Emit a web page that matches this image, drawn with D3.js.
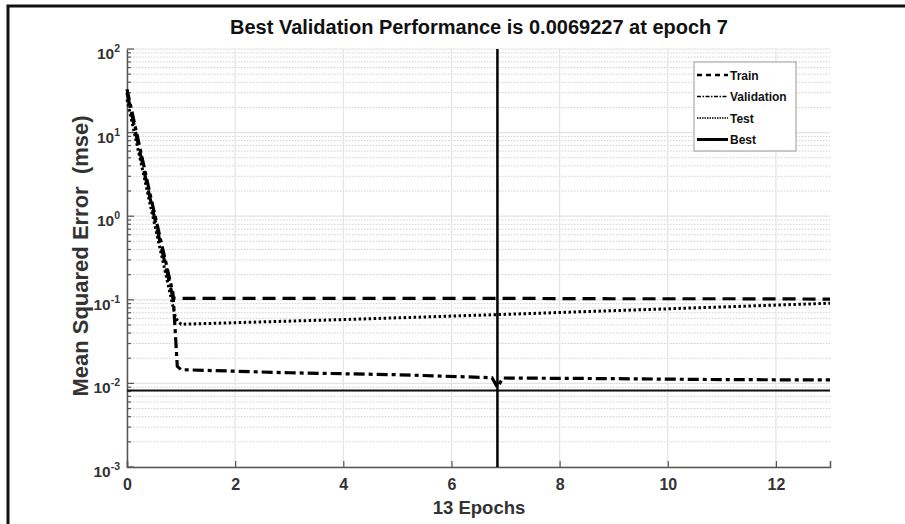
<!DOCTYPE html>
<html><head><meta charset="utf-8">
<script src="https://cdn.jsdelivr.net/npm/d3@7"></script>
<style>
html,body{margin:0;padding:0;background:#fff;}
svg{display:block;font-family:"Liberation Sans",Arial,sans-serif;}
</style></head>
<body>
<svg id="chart" width="905" height="524"></svg>
<script>
const titleText = "Best Validation Performance is 0.0069227 at epoch 7";
const xLabel = "13 Epochs";
const yLabel = "Mean Squared Error  (mse)";
const xTicks = [0, 2, 4, 6, 8, 10, 12];
const yTickExps = [-3, -2, -1, 0, 1, 2];
const legendLabels = ["Train", "Validation", "Test", "Best"];

const trainEpochs = [0, 0.43, 0.85, 1, 3, 5, 7, 9, 11, 13];
const trainValues = [30, 1.6, 0.105, 0.104, 0.104, 0.104, 0.104, 0.103, 0.103, 0.102];

const valEpochs = [0, 0.43, 0.85, 0.93, 1, 3, 5, 6.75, 6.85, 6.95, 9, 11, 13];
const valValues = [33, 1.8, 0.12, 0.016, 0.0146, 0.0134, 0.0127, 0.0117, 0.0090, 0.0116, 0.0114, 0.0111, 0.0110];

const testEpochs = [0, 0.45, 0.9, 1, 4, 7, 10, 13];
const testValues = [25, 1.2, 0.06, 0.051, 0.058, 0.067, 0.078, 0.091];

const bestEpoch = 6.85;
const bestValue = 0.0082;

const svg = d3.select("#chart");
const L = 127, R = 830, T = 49, B = 467;
const x = d3.scaleLinear().domain([0, 13]).range([L, R]);
const y = d3.scaleLog().domain([1e-3, 1e2]).range([B, T]);

// frame
svg.append("path").attr("d", "M8,530 L8,6 L910,6").attr("fill", "none").attr("stroke", "#111").attr("stroke-width", 3);

// minor grid
const minorVals = [];
for (let e = -3; e < 2; e++) for (let m = 2; m <= 9; m++) minorVals.push(m * Math.pow(10, e));
svg.append("g").selectAll("line").data(minorVals).join("line")
  .attr("x1", L).attr("x2", R).attr("y1", d => y(d)).attr("y2", d => y(d))
  .attr("stroke", "#cfcfcf").attr("stroke-width", 1).attr("stroke-dasharray", "1.5,1.5");
// major grid
svg.append("g").selectAll("line").data(yTickExps).join("line")
  .attr("x1", L).attr("x2", R).attr("y1", d => y(Math.pow(10, d))).attr("y2", d => y(Math.pow(10, d)))
  .attr("stroke", "#e3e3e3").attr("stroke-width", 1.2);
svg.append("g").selectAll("line").data(xTicks).join("line")
  .attr("x1", d => x(d)).attr("x2", d => x(d)).attr("y1", T).attr("y2", B)
  .attr("stroke", "#e3e3e3").attr("stroke-width", 1.2);

// axes
const xAxis = d3.axisBottom(x).tickValues(xTicks).tickSize(-6).tickFormat(d3.format("d")).tickPadding(12);
const gx = svg.append("g").attr("transform", `translate(0,${B})`).call(xAxis);
gx.select(".domain").attr("stroke", "#555").attr("stroke-width", 1.5);
gx.selectAll(".tick line").attr("stroke", "#555").attr("stroke-width", 1.2);
gx.selectAll(".tick text").attr("font-size", 16).attr("font-weight", "bold").attr("fill", "#333")
  .attr("font-family", "'Liberation Sans',Arial,sans-serif");

const allY = yTickExps.map(e => Math.pow(10, e)).concat(minorVals);
const yAxis = d3.axisLeft(y).tickValues(allY).tickSize(0).tickFormat("");
const gy = svg.append("g").attr("transform", `translate(${L},0)`).call(yAxis);
gy.select(".domain").attr("stroke", "#555").attr("stroke-width", 1.5);
// inward ticks
svg.append("g").selectAll("line").data(allY).join("line")
  .attr("x1", L).attr("x2", d => L + (minorVals.includes(d) ? 4 : 7))
  .attr("y1", d => y(d)).attr("y2", d => y(d)).attr("stroke", "#555").attr("stroke-width", 1.2);
// y tick labels
const yl = svg.append("g").selectAll("text").data(yTickExps).join("text")
  .attr("x", L - 7).attr("y", d => y(Math.pow(10, d)) + 10)
  .attr("text-anchor", "end").attr("font-size", 15.5).attr("font-weight", "bold").attr("fill", "#333");
yl.append("tspan").text("10");
yl.append("tspan").attr("dy", -7).attr("font-size", 10.5).text(d => String(d));

// lines
const line = d3.line().x(d => x(d[0])).y(d => y(d[1]));
const pts = (a, b) => a.map((v, i) => [v, b[i]]);
svg.append("path").datum(pts(testEpochs, testValues)).attr("d", line)
  .attr("fill", "none").attr("stroke", "#000").attr("stroke-width", 3).attr("stroke-dasharray", "2.5,2.5");
svg.append("path").datum(pts(valEpochs, valValues)).attr("d", line)
  .attr("fill", "none").attr("stroke", "#000").attr("stroke-width", 3.2).attr("stroke-dasharray", "11,4,4,4");
svg.append("path").datum(pts(trainEpochs, trainValues)).attr("d", line)
  .attr("fill", "none").attr("stroke", "#000").attr("stroke-width", 3.2).attr("stroke-dasharray", "13,7");

// best lines
svg.append("line").attr("x1", x(0)).attr("x2", x(13)).attr("y1", y(bestValue)).attr("y2", y(bestValue))
  .attr("stroke", "#111").attr("stroke-width", 2);
svg.append("line").attr("x1", x(bestEpoch)).attr("x2", x(bestEpoch)).attr("y1", T).attr("y2", B)
  .attr("stroke", "#000").attr("stroke-width", 2.5);

// title and labels
svg.append("text").attr("x", 479).attr("y", 34).attr("text-anchor", "middle")
  .attr("font-size", 20).attr("font-weight", "bold").attr("fill", "#111").text(titleText);
svg.append("text").attr("x", 479).attr("y", 514).attr("text-anchor", "middle")
  .attr("font-size", 18.5).attr("font-weight", "bold").attr("fill", "#333").text(xLabel);
svg.append("text").attr("transform", `translate(88,256) rotate(-90)`).attr("text-anchor", "middle")
  .attr("font-size", 22).attr("font-weight", "bold").attr("fill", "#333").style("white-space", "pre").text(yLabel);

// legend
const lg = svg.append("g").attr("transform", "translate(694,62)");
lg.append("rect").attr("width", 102).attr("height", 89).attr("fill", "#fff").attr("stroke", "#999").attr("stroke-width", 1);
const dashes = ["5,4", "4,1.5,1.5,1.5", "1.5,1", null];
const widths = [2.4, 1.6, 1.6, 3];
legendLabels.forEach((lab, i) => {
  const yy = 13 + i * 21.5;
  const ln = lg.append("line").attr("x1", 3).attr("x2", 34).attr("y1", yy).attr("y2", yy)
    .attr("stroke", "#000").attr("stroke-width", widths[i]);
  if (dashes[i]) ln.attr("stroke-dasharray", dashes[i]);
  lg.append("text").attr("x", 36).attr("y", yy + 4.5).attr("font-size", 12).attr("font-weight", "bold")
    .attr("fill", "#111").text(lab);
});
</script>
</body></html>
